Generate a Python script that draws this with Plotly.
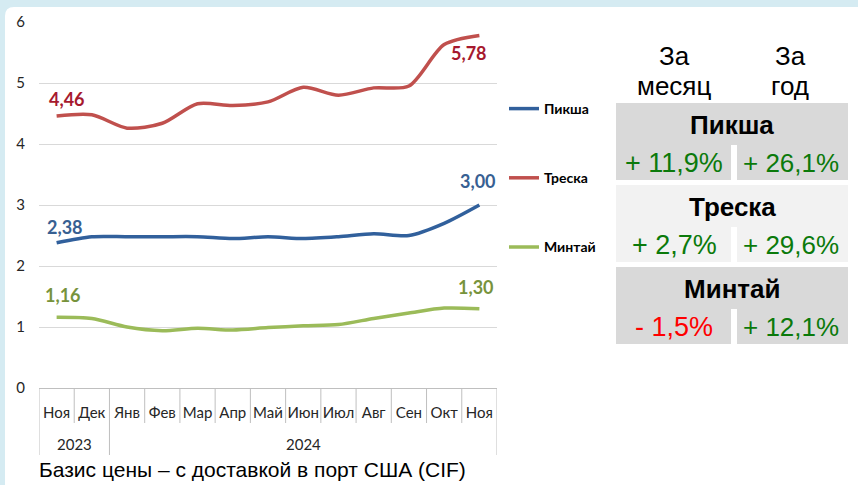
import plotly.graph_objects as go

W, H = 858, 485

# ---------------- data ----------------
months = ["Ноя", "Дек", "Янв", "Фев", "Мар", "Апр", "Май", "Июн", "Июл", "Авг", "Сен", "Окт", "Ноя"]
years = ["2023", "2023"] + ["2024"] * 11

piksha = [2.38, 2.48, 2.48, 2.48, 2.48, 2.45, 2.48, 2.45, 2.48, 2.53, 2.50, 2.70, 3.00]
treska = [4.46, 4.48, 4.26, 4.34, 4.66, 4.63, 4.69, 4.93, 4.80, 4.92, 4.95, 5.63, 5.78]
mintai = [1.16, 1.14, 1.00, 0.94, 0.98, 0.95, 0.99, 1.02, 1.04, 1.14, 1.23, 1.31, 1.30]

series_names = ["Пикша", "Треска", "Минтай"]
series_values = [piksha, treska, mintai]
line_colors = ["#31609c", "#c0504d", "#9bbb59"]
label_colors = ["#376092", "#a6192e", "#77933c"]
# pixel nudges of the first / last value labels (x, y)
first_label_shift = [(8, 16), (10, 17), (6, 22)]
last_label_shift = [(-1, 24), (-10, -18), (-3, 22)]

y_ticks = [0, 1, 2, 3, 4, 5, 6]

table_names = ["Пикша", "Треска", "Минтай"]
change_month = ["+ 11,9%", "+ 2,7%", "- 1,5%"]
change_year = ["+ 26,1%", "+ 29,6%", "+ 12,1%"]
col_headers = [["За", "месяц"], ["За", "год"]]
caption = "Базис цены – с доставкой в порт США (CIF)"


def px(x):
    return x / W


def py(y):
    return 1 - y / H


def fmt(v):
    return f"{v:.2f}".replace(".", ",")


idx = list(range(len(months)))

fig = go.Figure()
annotations = []

for k, (name, vals, lc, tc) in enumerate(zip(series_names, series_values, line_colors, label_colors)):
    fig.add_trace(go.Scatter(
        x=idx, y=vals, name=name, legendgroup=name, mode="lines",
        line=dict(color=lc, width=3.5, shape="spline", smoothing=0.8),
        cliponaxis=False, hoverinfo="skip",
    ))
    for j, sh in [(0, first_label_shift[k]), (len(vals) - 1, last_label_shift[k])]:
        annotations.append(dict(x=idx[j], y=vals[j], xref="x", yref="y", text=fmt(vals[j]),
                                showarrow=False, xanchor="center", yanchor="middle",
                                xshift=sh[0], yshift=sh[1],
                                font=dict(family="Lato", size=18, color=tc, weight="bold")))

shapes = []
frame = "#d5ebf2"
shapes.append(dict(type="rect", xref="paper", yref="paper", x0=0, x1=1, y0=py(7), y1=1,
                   fillcolor=frame, line=dict(width=0), layer="below"))
shapes.append(dict(type="rect", xref="paper", yref="paper", x0=0, x1=px(5), y0=0, y1=1,
                   fillcolor=frame, line=dict(width=0), layer="below"))
shapes.append(dict(type="path", xref="paper", yref="paper",
                   path=f"M{px(5)},{py(7)} L{px(14)},{py(7)} Q{px(5)},{py(7)} {px(5)},{py(16)} Z",
                   fillcolor=frame, line=dict(width=0), layer="below"))

# category boundary ticks and year dividers
axis_col = "#bfbfbf"
year_groups = []
for i, yv in enumerate(years):
    if not year_groups or year_groups[-1][0] != yv:
        year_groups.append([yv, i, i])
    else:
        year_groups[-1][2] = i
year_bounds = set()
for yv, a, b in year_groups:
    year_bounds.add(a - 0.5)
    year_bounds.add(b + 0.5)
    annotations.append(dict(x=(a + b) / 2, y=py(444), xref="x", yref="paper", text=yv,
                            showarrow=False, xanchor="center", yanchor="middle",
                            font=dict(family="Lato", size=15, color="#262626")))
for i in range(len(months) + 1):
    b = i - 0.5
    bottom = 455 if b in year_bounds else 423
    shapes.append(dict(type="line", xref="x", yref="paper", x0=b, x1=b,
                       y0=py(388), y1=py(bottom), line=dict(color=axis_col, width=1)))

# table blocks
block_tops = [103, 185, 267]
block_colors = ["#d9d9d9", "#f2f2f2", "#d9d9d9"]
for i, (top, col) in enumerate(zip(block_tops, block_colors)):
    hdr_bot = top + 42
    val_bot = hdr_bot + 35
    shapes.append(dict(type="rect", xref="paper", yref="paper", x0=px(616), x1=px(848),
                       y0=py(hdr_bot), y1=py(top), fillcolor=col, line=dict(width=0), layer="below"))
    shapes.append(dict(type="rect", xref="paper", yref="paper", x0=px(616), x1=px(731),
                       y0=py(val_bot), y1=py(hdr_bot), fillcolor=col, line=dict(width=0), layer="below"))
    shapes.append(dict(type="rect", xref="paper", yref="paper", x0=px(737), x1=px(848),
                       y0=py(val_bot), y1=py(hdr_bot), fillcolor=col, line=dict(width=0), layer="below"))
    annotations.append(dict(x=px(732), y=py(top + 22), xref="paper", yref="paper",
                            text=f"<b>{table_names[i]}</b>", showarrow=False,
                            xanchor="center", yanchor="middle",
                            font=dict(family="Liberation Sans", size=26, color="black")))
    mcol = "#ff0000" if change_month[i].startswith("-") else "#0b7a0b"
    ycol = "#ff0000" if change_year[i].startswith("-") else "#0b7a0b"
    annotations.append(dict(x=px(674), y=py(hdr_bot + 18), xref="paper", yref="paper",
                            text=change_month[i], showarrow=False,
                            xanchor="center", yanchor="middle",
                            font=dict(family="Liberation Sans", size=27, color=mcol)))
    annotations.append(dict(x=px(791), y=py(hdr_bot + 18), xref="paper", yref="paper",
                            text=change_year[i], showarrow=False,
                            xanchor="center", yanchor="middle",
                            font=dict(family="Liberation Sans", size=26, color=ycol)))

for hx, lines in zip([674, 790], col_headers):
    for ly, txt in zip([56, 86], lines):
        annotations.append(dict(x=px(hx), y=py(ly), xref="paper", yref="paper", text=txt,
                                showarrow=False, xanchor="center", yanchor="middle",
                                font=dict(family="Liberation Sans", size=26, color="black")))

annotations.append(dict(x=px(37), y=py(469), xref="paper", yref="paper", text=caption,
                        showarrow=False, xanchor="left", yanchor="middle",
                        font=dict(family="Liberation Sans", size=21, color="black")))

fig.update_layout(
    width=W, height=H,
    margin=dict(l=0, r=0, t=0, b=0, autoexpand=False),
    paper_bgcolor="white", plot_bgcolor="white",
    showlegend=True,
    legend=dict(x=px(504), y=py(93), xanchor="left", yanchor="top",
                traceorder="grouped", tracegroupgap=48,
                font=dict(family="Lato", size=14, color="black", weight="bold"),
                bgcolor="rgba(0,0,0,0)"),
    xaxis=dict(domain=[px(39), px(497)], range=[-0.5, len(months) - 0.5],
               tickvals=idx, ticktext=months, tickangle=0,
               showline=True, linecolor=axis_col, linewidth=1,
               ticks="", ticklabelstandoff=11, automargin=False,
               tickfont=dict(family="Lato", size=15, color="#262626"),
               showgrid=False, zeroline=False),
    yaxis=dict(domain=[py(388), py(22)], range=[0, 6], tickvals=y_ticks,
               showgrid=True, gridcolor="#d9d9d9", gridwidth=1, zeroline=False,
               showline=False, ticks="", ticklabelstandoff=13, automargin=False,
               tickfont=dict(family="Lato", size=15, color="#262626")),
    shapes=shapes,
    annotations=annotations,
)

fig.write_html("out.html", config={"displayModeBar": False},
               post_script="document.body.style.margin='0px';")
